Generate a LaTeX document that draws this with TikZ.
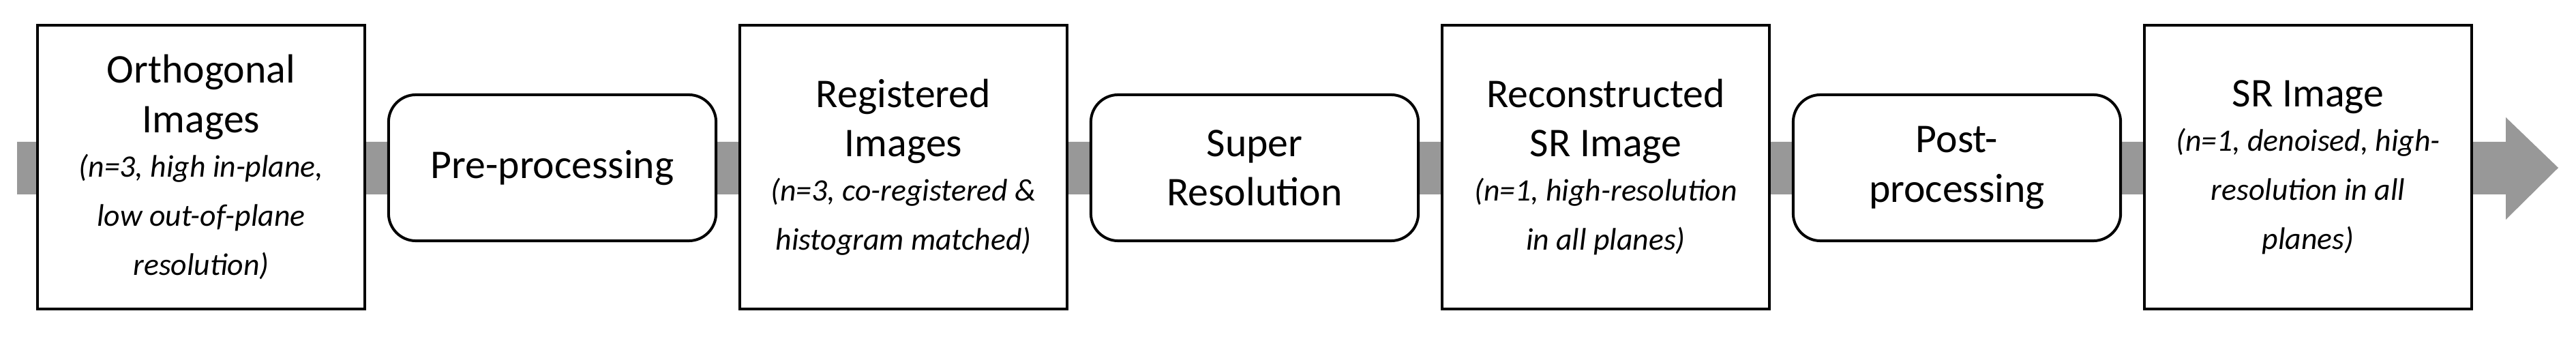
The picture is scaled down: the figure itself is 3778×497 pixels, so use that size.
\documentclass[tikz,border=0pt]{standalone}
\usepackage{fontspec}
\setmainfont{Carlito}
\newcommand\subtxt{\fontsize{13}{15.8}\selectfont\itshape}
\begin{document}
\begin{tikzpicture}[x=0.01cm,y=0.01cm,
  imgbox/.style={draw=black,line width=0.04cm,fill=white,minimum width=4.8cm,minimum height=4.15cm,align=center,inner sep=0pt,font=\fontsize{17}{20.5}\selectfont},
  procbox/.style={draw=black,line width=0.04cm,fill=white,rounded corners=0.4cm,minimum width=4.8cm,minimum height=2.14cm,align=center,inner sep=0pt,font=\fontsize{17}{20.5}\selectfont}]
\useasboundingbox (0,0) rectangle (3778,497);
\coordinate (s) at (25,251);
\coordinate (e) at (3752,251);
\fill[gray!85!black!70] (s |- 0,212) -- (3675,212) -- (3675,175) -- (e) -- (3675,325) -- (3675,289) -- (s |- 0,289) -- cycle;
\node[imgbox] (b1) at (295,252) {Orthogonal\\Images\\[-2pt]{\subtxt (n=3, high in-plane,}\\{\subtxt low out-of-plane}\\{\subtxt resolution)}};
\node[procbox] (p1) at (810,251) {Pre-processing};
\node[imgbox] (b2) at (1325,252) {Registered\\Images\\[-2pt]{\subtxt (n=3, co-registered \&}\\{\subtxt histogram matched)}};
\node[procbox] (p2) at (1840,251) {Super\\Resolution};
\node[imgbox] (b3) at (2355,252) {Reconstructed\\SR Image\\[-2pt]{\subtxt (n=1, high-resolution}\\{\subtxt in all planes)}};
\node[procbox] (p3) at (2870,251) {Post-\\processing};
\node[imgbox] (b4) at (3385,252) {SR Image\\[-2pt]{\subtxt (n=1, denoised, high-}\\{\subtxt resolution in all}\\{\subtxt planes)}};
\end{tikzpicture}
\end{document}
